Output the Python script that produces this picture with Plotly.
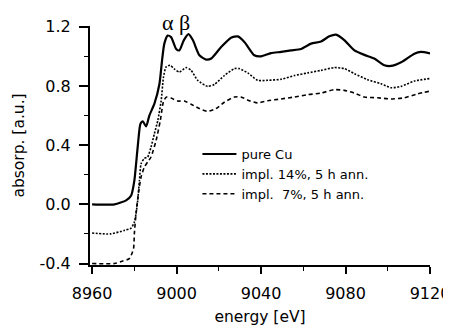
import plotly.graph_objects as go

# ---- data ----
cu_energy = [8960, 8970.6, 8976.1, 8978.5, 8980, 8981.6, 8982.9, 8984, 8985.6, 8987.1, 8989.5,
             8991.9, 8993.1, 8994.2, 8995.8, 8997.4, 8999.8, 9001.3, 9003.4, 9005.6, 9007.7,
             9010.8, 9014, 9016.4, 9021.1, 9025.8, 9029, 9032.1, 9036.8, 9040, 9044.7, 9049.5,
             9054.2, 9058.9, 9063.7, 9068.4, 9072.3, 9075.5, 9079.4, 9084.2, 9088.9, 9093.6,
             9098.4, 9101.5, 9106.3, 9112.6, 9115.7, 9120]
cu_absorp = [0.0, 0.0, 0.027, 0.06, 0.16, 0.39, 0.545, 0.56, 0.527, 0.60, 0.68,
             0.815, 0.97, 1.086, 1.14, 1.13, 1.05, 1.04, 1.108, 1.15, 1.11,
             1.007, 0.978, 0.985, 1.063, 1.126, 1.135, 1.097, 1.007, 1.0, 1.022, 1.03,
             1.04, 1.05, 1.086, 1.10, 1.135, 1.147, 1.11, 1.04, 1.01, 0.985,
             0.94, 0.935, 0.96, 1.018, 1.03, 1.02]

i14_energy = [8960, 8968.7, 8975.3, 8978.5, 8980, 8980.8, 8981.6, 8982.4, 8983.2, 8984.7, 8986.3,
              8987.9, 8989.5, 8991.1, 8992.7, 8993.8, 8995, 8996.9, 8998.9, 9001.3, 9004.5,
              9006.9, 9010, 9014.7, 9017.9, 9022.6, 9027.4, 9029.7, 9033.7, 9038.4, 9043.2,
              9049.5, 9055.8, 9062.1, 9068.4, 9074.7, 9079.4, 9084.2, 9090.5, 9096.8, 9101.5,
              9106.3, 9112.6, 9120]
i14_absorp = [-0.194, -0.2, -0.176, -0.16, -0.12, -0.063, 0.027, 0.16, 0.275, 0.31, 0.32,
              0.387, 0.478, 0.567, 0.70, 0.86, 0.928, 0.94, 0.915, 0.894, 0.924,
              0.905, 0.838, 0.797, 0.81, 0.87, 0.917, 0.917, 0.888, 0.838, 0.838,
              0.845, 0.87, 0.888, 0.905, 0.924, 0.917, 0.883, 0.842, 0.815, 0.788,
              0.797, 0.833, 0.85]

i7_energy = [8960, 8970.6, 8974.5, 8977.6, 8979.6, 8980, 8980.8, 8981.9, 8983.2, 8984.7, 8986.3,
             8987.9, 8990.3, 8992.3, 8993.9, 8995.3, 8997.4, 9000.5, 9003.7, 9006.9, 9010.8,
             9014.7, 9018.7, 9022.6, 9027.4, 9030.5, 9034.5, 9038.4, 9043.2, 9049.5, 9055.8,
             9062.1, 9068.4, 9074.7, 9079.4, 9084.2, 9088.9, 9095.2, 9101.5, 9107.8, 9114.2, 9120]
i7_absorp = [-0.40, -0.40, -0.383, -0.367, -0.30, -0.198, -0.063, 0.072, 0.185, 0.25, 0.286,
             0.32, 0.432, 0.567, 0.70, 0.725, 0.718, 0.698, 0.698, 0.676, 0.647,
             0.628, 0.647, 0.69, 0.725, 0.725, 0.70, 0.685, 0.70, 0.712, 0.725,
             0.741, 0.752, 0.775, 0.77, 0.752, 0.725, 0.72, 0.712, 0.72, 0.747, 0.765]

series_names = ["pure Cu", "impl. 14%, 5 h ann.", "impl.\u00a0\u00a07%, 5 h ann."]

x_tick_vals = [8960, 9000, 9040, 9080, 9120]
x_tick_text = ["8960", "9000", "9040", "9080", "9120"]
y_tick_vals = [-0.4, 0.0, 0.4, 0.8, 1.2]
y_tick_text = ["-0.4", "0.0", "0.4", "0.8", "1.2"]

FONT = "DejaVu Sans"

fig = go.Figure()
fig.add_trace(go.Scatter(x=cu_energy, y=cu_absorp, mode="lines", name=series_names[0],
                         line=dict(color="black", width=2.2, shape="spline", smoothing=0.6)))
fig.add_trace(go.Scatter(x=i14_energy, y=i14_absorp, mode="lines", name=series_names[1],
                         line=dict(color="black", width=1.6, dash="2px,1.5px", shape="spline", smoothing=0.6)))
fig.add_trace(go.Scatter(x=i7_energy, y=i7_absorp, mode="lines", name=series_names[2],
                         line=dict(color="black", width=1.6, dash="4px,3px", shape="spline", smoothing=0.6)))

# page body adds an 8px offset, so the figure is 8px smaller on each side
fig.update_layout(
    width=443, height=322,
    margin=dict(l=82, r=21, t=18, b=65),
    paper_bgcolor="white", plot_bgcolor="white",
    font=dict(family=FONT, color="black", size=15),
    showlegend=True,
    legend=dict(x=0.316, xanchor="left", y=0.527, yanchor="top",
                bgcolor="rgba(0,0,0,0)", font=dict(family=FONT, size=13, color="black"),
                tracegroupgap=0, itemwidth=34),
    xaxis=dict(range=[8959, 9120], automargin=False, showline=True, linecolor="black", linewidth=2,
               showgrid=False, zeroline=False, ticks="outside", ticklen=7, tickwidth=1.5,
               tickcolor="black", tickvals=x_tick_vals, ticktext=x_tick_text,
               tickfont=dict(family=FONT, size=16), ticklabelstandoff=6,
               minor=dict(dtick=20, tick0=8960, ticks="outside", ticklen=4, tickwidth=1.2, tickcolor="black"),
               title=dict(text="energy [eV]", font=dict(family=FONT, size=15.5), standoff=9)),
    yaxis=dict(range=[-0.41, 1.205], automargin=False, showline=True, linecolor="black", linewidth=2,
               showgrid=False, zeroline=False, ticks="outside", ticklen=9, tickwidth=1.5,
               tickcolor="black", tickvals=y_tick_vals, ticktext=y_tick_text,
               tickfont=dict(family=FONT, size=16), ticklabelstandoff=5,
               minor=dict(dtick=0.2, tick0=0, ticks="outside", ticklen=4, tickwidth=1.2, tickcolor="black"),
               title=dict(text="absorp. [a.u.]", font=dict(family=FONT, size=15.5), standoff=11)),
    annotations=[
        dict(text="\u03b1 \u03b2", xref="x", yref="paper", x=8999.5, y=1.0126,
             xanchor="center", yanchor="middle", showarrow=False, borderpad=0,
             font=dict(family="Liberation Serif", size=22)),
    ],
)

fig.write_html("out.html")
